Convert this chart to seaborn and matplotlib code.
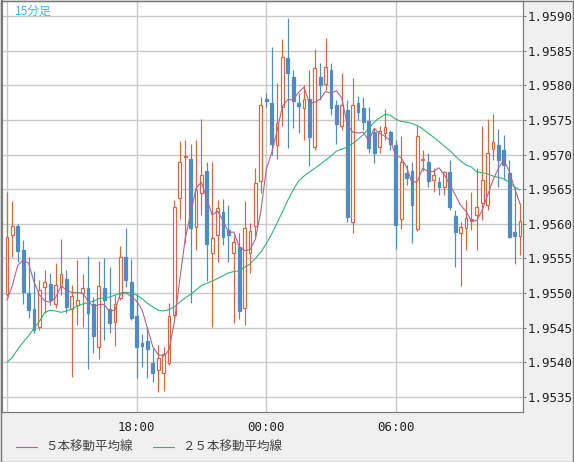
import numpy as np
import pandas as pd
import matplotlib
matplotlib.use("Agg")
import matplotlib.pyplot as plt
from matplotlib.lines import Line2D
from matplotlib.patches import Rectangle
import seaborn as sns

# ---------------- data (15-minute candles, GBP/USD-like quotes) ----------------
opens = [1.95498, 1.95584, 1.95597, 1.95562, 1.95500, 1.95477, 1.95451, 1.95508, 1.95513, 1.95484,
         1.95510, 1.95520, 1.95477, 1.95482, 1.95500, 1.95507, 1.95484, 1.95422, 1.95507, 1.95477,
         1.95458, 1.95493, 1.95552, 1.95516, 1.95467, 1.95428, 1.95430, 1.95399, 1.95388, 1.95384,
         1.95399, 1.95468, 1.95637, 1.95696, 1.95693, 1.95595, 1.95644, 1.95677, 1.95558, 1.95584,
         1.95617, 1.95591, 1.95558, 1.95566, 1.95478, 1.95558, 1.95597, 1.95662, 1.95781, 1.95774,
         1.95714, 1.95769, 1.95839, 1.95812, 1.95774, 1.95767, 1.95781, 1.95711, 1.95812, 1.95802,
         1.95822, 1.95771, 1.95742, 1.95764, 1.95602, 1.95774, 1.95767, 1.95748, 1.95732, 1.95711,
         1.95731, 1.95732, 1.95714, 1.95607, 1.95673, 1.95676, 1.95592, 1.95692, 1.95690, 1.95664,
         1.95660, 1.95653, 1.95675, 1.95611, 1.95586, 1.95594, 1.95604, 1.95612, 1.95630, 1.95627,
         1.95708, 1.95714, 1.95706, 1.95673, 1.95588, 1.95582]
highs = [1.95646, 1.95633, 1.95599, 1.95576, 1.95552, 1.95532, 1.95519, 1.95533, 1.95529, 1.95543,
         1.95578, 1.95533, 1.95511, 1.95547, 1.95527, 1.95553, 1.95494, 1.95546, 1.95550, 1.95537,
         1.95497, 1.95568, 1.95594, 1.95549, 1.95500, 1.95441, 1.95451, 1.95420, 1.95425, 1.95422,
         1.95485, 1.95634, 1.95719, 1.95721, 1.95716, 1.95721, 1.95751, 1.95689, 1.95690, 1.95634,
         1.95636, 1.95627, 1.95584, 1.95586, 1.95633, 1.95601, 1.95680, 1.95783, 1.95789, 1.95855,
         1.95803, 1.95867, 1.95897, 1.95822, 1.95789, 1.95800, 1.95823, 1.95852, 1.95832, 1.95868,
         1.95832, 1.95779, 1.95818, 1.95779, 1.95810, 1.95784, 1.95783, 1.95769, 1.95738, 1.95742,
         1.95766, 1.95735, 1.95721, 1.95727, 1.95685, 1.95689, 1.95742, 1.95706, 1.95702, 1.95680,
         1.95667, 1.95677, 1.95692, 1.95620, 1.95602, 1.95634, 1.95646, 1.95680, 1.95742, 1.95751,
         1.95758, 1.95737, 1.95728, 1.95692, 1.95653, 1.95630]
lows = [1.95495, 1.95552, 1.95545, 1.95484, 1.95464, 1.95442, 1.95446, 1.95471, 1.95482, 1.95478,
        1.95497, 1.95471, 1.95378, 1.95454, 1.95451, 1.95390, 1.95413, 1.95404, 1.95432, 1.95442,
        1.95423, 1.95490, 1.95508, 1.95461, 1.95377, 1.95393, 1.95377, 1.95371, 1.95357, 1.95358,
        1.95396, 1.95464, 1.95607, 1.95572, 1.95485, 1.95562, 1.95612, 1.95517, 1.95451, 1.95545,
        1.95569, 1.95545, 1.95456, 1.95462, 1.95454, 1.95529, 1.95581, 1.95644, 1.95769, 1.95699,
        1.95693, 1.95741, 1.95709, 1.95738, 1.95731, 1.95721, 1.95683, 1.95706, 1.95779, 1.95793,
        1.95757, 1.95716, 1.95735, 1.95602, 1.95586, 1.95750, 1.95735, 1.95703, 1.95688, 1.95702,
        1.95721, 1.95706, 1.95563, 1.95592, 1.95656, 1.95572, 1.95589, 1.95677, 1.95653, 1.95646,
        1.95641, 1.95641, 1.95620, 1.95537, 1.95510, 1.95562, 1.95591, 1.95562, 1.95605, 1.95620,
        1.95692, 1.95653, 1.95663, 1.95579, 1.95542, 1.95555]
closes = [1.95581, 1.95597, 1.95560, 1.95501, 1.95475, 1.95446, 1.95505, 1.95516, 1.95490, 1.95511,
          1.95527, 1.95480, 1.95495, 1.95490, 1.95507, 1.95471, 1.95438, 1.95510, 1.95490, 1.95456,
          1.95484, 1.95552, 1.95519, 1.95464, 1.95422, 1.95423, 1.95419, 1.95384, 1.95406, 1.95412,
          1.95467, 1.95625, 1.95690, 1.95698, 1.95594, 1.95649, 1.95670, 1.95571, 1.95579, 1.95623,
          1.95581, 1.95584, 1.95573, 1.95474, 1.95594, 1.95589, 1.95659, 1.95771, 1.95777, 1.95716,
          1.95745, 1.95841, 1.95818, 1.95777, 1.95770, 1.95781, 1.95725, 1.95825, 1.95800, 1.95826,
          1.95767, 1.95744, 1.95771, 1.95610, 1.95771, 1.95761, 1.95747, 1.95709, 1.95702, 1.95734,
          1.95740, 1.95716, 1.95598, 1.95690, 1.95666, 1.95627, 1.95727, 1.95693, 1.95662, 1.95670,
          1.95653, 1.95675, 1.95624, 1.95588, 1.95595, 1.95608, 1.95607, 1.95624, 1.95664, 1.95703,
          1.95718, 1.95692, 1.95685, 1.95581, 1.95582, 1.95604]
# closes of the four candles before the visible window (feed the 5-bar average)
prev_closes = [1.95488, 1.95416, 1.95465, 1.95498]
# 25-bar moving average as drawn on the chart
ma25 = [1.95400, 1.95407, 1.95419, 1.95429, 1.95438, 1.95449, 1.95459, 1.95472, 1.95475, 1.95474,
        1.95472, 1.95474, 1.95477, 1.95481, 1.95484, 1.95486, 1.95488, 1.95492, 1.95493, 1.95494,
        1.95497, 1.95500, 1.95501, 1.95500, 1.95497, 1.95492, 1.95485, 1.95480, 1.95475, 1.95474,
        1.95476, 1.95480, 1.95487, 1.95493, 1.95498, 1.95504, 1.95511, 1.95514, 1.95517, 1.95521,
        1.95525, 1.95529, 1.95531, 1.95532, 1.95537, 1.95542, 1.95550, 1.95559, 1.95571, 1.95585,
        1.95601, 1.95617, 1.95634, 1.95649, 1.95662, 1.95669, 1.95675, 1.95680, 1.95686, 1.95692,
        1.95698, 1.95705, 1.95708, 1.95711, 1.95716, 1.95722, 1.95729, 1.95738, 1.95747, 1.95753,
        1.95758, 1.95757, 1.95751, 1.95748, 1.95747, 1.95745, 1.95742, 1.95737, 1.95731, 1.95725,
        1.95719, 1.95712, 1.95706, 1.95698, 1.95691, 1.95685, 1.95682, 1.95675, 1.95674, 1.95672,
        1.95669, 1.95667, 1.95665, 1.95660, 1.95653, 1.95649]
price_ticks = [1.9535, 1.9540, 1.9545, 1.9550, 1.9555, 1.9560,
               1.9565, 1.9570, 1.9575, 1.9580, 1.9585, 1.9590]
start_time = "2024-01-01 12:00"
timeframe_label = "15分足"
legend_labels = ["５本移動平均線", "２５本移動平均線"]

# ---------------- frame ----------------
times = pd.date_range(start_time, periods=len(closes), freq="15min")
df = pd.DataFrame({"t": times, "open": opens, "high": highs, "low": lows,
                   "close": closes, "ma25": ma25})
df["idx"] = np.arange(len(df))
all_close = pd.Series(prev_closes + closes)
df["ma5"] = all_close.rolling(5).mean().iloc[len(prev_closes):].to_numpy()

UP = "#e0633f"
DOWN = "#4d8cc4"
MA5_C = "#b5608e"
MA25_C = "#2db477"
GRID = "#c8c8c8"
BORDER = "#7a7a7a"
PANEL = "#f0f0f0"

sns.set_style("white")
plt.rcParams["font.family"] = ["Noto Sans CJK JP", "DejaVu Sans"]

W, H = 574, 462
fig = plt.figure(figsize=(W / 100, H / 100), dpi=100)
fig.patch.set_facecolor(PANEL)
ax = fig.add_axes([2 / W, 50 / H, 521 / W, 411 / H])
ax.set_facecolor("white")

px = 0.72  # one pixel in points

# grid
ax.set_axisbelow(True)
ax.grid(True, color=GRID, linewidth=1.4 * px, zorder=0)

# candles
up = df[df["close"] >= df["open"]]
dn = df[df["close"] < df["open"]]
ax.vlines(up["idx"], up["low"], up["high"], color=UP, linewidth=1.2 * px, zorder=2)
ax.vlines(dn["idx"], dn["low"], dn["high"], color=DOWN, linewidth=1.2 * px, zorder=2)
ax.bar(up["idx"], (up["close"] - up["open"]).clip(lower=0.000008), bottom=up["open"],
       width=0.5, facecolor="white", edgecolor=UP, linewidth=1.2 * px, zorder=3)
ax.bar(dn["idx"], dn["close"] - dn["open"], bottom=dn["open"],
       width=0.5, facecolor=DOWN, edgecolor=DOWN, linewidth=1.2 * px, zorder=3)

# moving averages
sns.lineplot(data=df, x="idx", y="ma25", ax=ax, color=MA25_C, linewidth=1.1 * px,
             legend=False, zorder=4)
sns.lineplot(data=df, x="idx", y="ma5", ax=ax, color=MA5_C, linewidth=1.1 * px,
             legend=False, zorder=4)

# scales
ax.set_xlim(-0.93, 95.56)
ax.set_ylim(1.95328, 1.95922)

tick_mask = (df["t"].dt.minute == 0) & (df["t"].dt.hour % 6 == 0)
xt = df.loc[tick_mask, "idx"].to_list()
xl = [t.strftime("%H:%M") for t in df.loc[tick_mask, "t"]]
xl = ["" if i == 0 else s for i, s in zip(xt, xl)]
ax.set_xticks(xt)
ax.set_xticklabels(xl, family="DejaVu Sans Mono", fontsize=9, color="#202020")
ax.set_yticks(price_ticks)
ax.set_yticklabels([f"{v:.4f}" for v in price_ticks], family="DejaVu Sans Mono",
                   fontsize=9, color="#202020")
ax.yaxis.tick_right()
ax.tick_params(axis="y", length=2, width=px, color=BORDER, pad=1.5)
ax.tick_params(axis="x", length=0, pad=6.5)
ax.set_xlabel("")
ax.set_ylabel("")

for side, sp in ax.spines.items():
    sp.set_visible(True)
    sp.set_color(BORDER)
    sp.set_linewidth(1.2 * px)
ax.spines["left"].set_linewidth(2.2 * px)

# timeframe label
ax.text(13 / 521, 1 - 10 / 411, timeframe_label, transform=ax.transAxes,
        ha="left", va="center", fontsize=8.5, color="#3cbdf0", zorder=6)

# legend
ly = (H - 447) / H
fig.add_artist(Line2D([16 / W, 37 / W], [ly, ly], color=MA5_C, linewidth=1.1 * px))
fig.text(45 / W, ly, legend_labels[0], ha="left", va="center", fontsize=9, color="#404040")
fig.add_artist(Line2D([153 / W, 174 / W], [ly, ly], color=MA25_C, linewidth=1.1 * px))
fig.text(182 / W, ly, legend_labels[1], ha="left", va="center", fontsize=9, color="#404040")

# outer border
fig.add_artist(Rectangle((0.5 / W, 0.5 / H), (W - 1.5) / W, (H - 1.5) / H,
                         transform=fig.transFigure, fill=False,
                         edgecolor=BORDER, linewidth=1.4 * px))

fig.savefig("out.png", dpi=100, facecolor=PANEL)
